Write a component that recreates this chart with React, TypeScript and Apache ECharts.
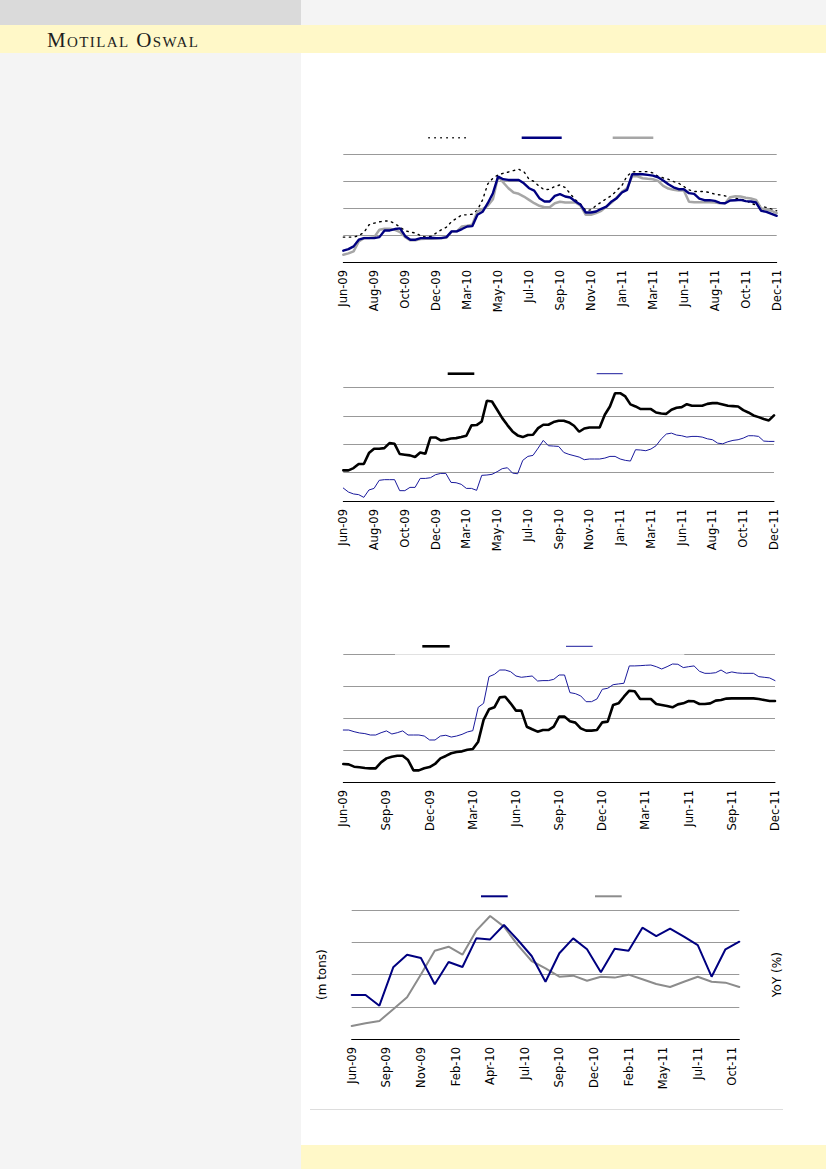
import React, { useEffect, useRef } from 'react';
import * as echarts from 'echarts';

// ---------- tick labels ----------
const ticks1 = ['Jun-09', 'Aug-09', 'Oct-09', 'Dec-09', 'Mar-10', 'May-10', 'Jul-10', 'Sep-10', 'Nov-10', 'Jan-11', 'Mar-11', 'Jun-11', 'Aug-11', 'Oct-11', 'Dec-11'];
const ticks2 = ticks1;
const ticks3 = ['Jun-09', 'Sep-09', 'Dec-09', 'Mar-10', 'Jun-10', 'Sep-10', 'Dec-10', 'Mar-11', 'Jun-11', 'Sep-11', 'Dec-11'];
const ticks4 = ['Jun-09', 'Sep-09', 'Nov-09', 'Feb-10', 'Apr-10', 'Jul-10', 'Sep-10', 'Dec-10', 'Feb-11', 'May-11', 'Jul-11', 'Oct-11'];

// points between two tick labels
const STEP1 = 6;
const STEP3 = 8;
const STEP4 = 2.5;

// ---------- chart 1 (weekly, 85 points) ----------
const c1Dotted = [23.1, 23.1, 23.1, 24.4, 27.5, 34.6, 36.1, 37.3, 38.0, 38.0, 35.5, 32.4, 29.0, 27.8, 26.9, 24.4, 23.1, 23.8, 26.9, 29.9, 32.4, 37.6, 40.7, 43.8, 43.8, 44.4, 48.4, 57.7, 72.5, 77.8, 80.9, 82.4, 83.6, 84.9, 86.1, 83.9, 76.8, 74.7, 70.1, 67.0, 67.6, 70.1, 71.6,
  69.1, 63.3, 57.7, 53.7, 47.8, 48.4, 52.5, 55.5, 58.9, 61.7, 66.3, 71.0, 79.9, 83.6, 83.9, 83.9, 83.9, 82.7, 79.6, 78.1, 76.8, 74.7, 73.1, 70.1, 67.0, 65.4, 65.4, 65.4, 64.5, 63.0, 62.3, 61.4, 60.2, 59.3, 58.3, 57.1, 54.6, 52.8, 51.8, 50.6, 49.1, 47.5];
const c1Navy = [10.5, 12.0, 14.5, 20.7, 22.2, 22.2, 22.2, 23.1, 29.3, 29.3, 30.6, 31.2, 24.0, 20.7, 20.7, 22.2, 22.2, 22.5, 22.2, 22.2, 23.1, 28.4, 28.4, 30.6, 33.0, 33.3, 43.8, 46.6, 54.6, 63.9, 79.3, 76.8, 76.2, 76.2, 76.2, 73.1, 68.5, 66.3, 59.3, 56.2, 56.2, 61.4, 63.0,
  60.8, 59.9, 56.2, 53.1, 46.0, 46.0, 46.9, 49.4, 51.5, 56.2, 59.3, 64.5, 67.0, 81.5, 81.5, 81.5, 80.9, 80.2, 78.7, 75.6, 72.2, 69.4, 67.6, 67.6, 63.9, 63.3, 58.9, 57.4, 57.4, 56.8, 54.9, 54.6, 57.1, 57.4, 57.7, 56.5, 56.2, 55.2, 47.5, 46.6, 44.7, 42.9];
const c1Gray = [6.8, 8.0, 9.9, 19.1, 22.2, 22.2, 23.1, 29.9, 30.9, 30.9, 29.9, 27.8, 23.1, 20.1, 20.1, 21.3, 21.6, 21.6, 21.9, 22.2, 22.5, 28.4, 28.4, 33.0, 33.6, 34.6, 46.9, 49.1, 52.2, 58.3, 79.3, 73.8, 68.5, 64.5, 63.3, 60.8, 57.7, 54.6, 52.2, 50.9, 50.9, 54.6, 55.9,
  55.2, 55.2, 55.2, 52.2, 43.8, 43.8, 45.4, 47.5, 51.5, 55.2, 59.9, 65.1, 68.5, 79.9, 79.6, 77.8, 77.2, 76.8, 75.3, 70.7, 68.2, 67.0, 66.3, 66.3, 55.9, 55.5, 55.5, 55.5, 55.5, 55.2, 54.6, 54.6, 60.2, 61.1, 60.8, 59.6, 58.9, 57.7, 49.7, 48.8, 47.5, 45.4];

// ---------- chart 2 (weekly, 85 points) ----------
const c2Black = [27.0, 27.0, 29.0, 32.6, 32.6, 42.2, 46.0, 46.0, 46.6, 51.0, 50.4, 41.4, 40.8, 40.2, 38.7, 42.8, 41.6, 56.0, 56.0, 53.4, 54.0, 55.1, 55.4, 56.3, 57.5, 66.6, 66.9, 70.1, 88.3, 87.7, 80.4, 73.0, 66.9, 61.3, 57.8, 56.3, 58.1, 58.4, 64.2, 67.2, 67.2, 69.5, 70.7,
  70.7, 69.2, 66.3, 61.0, 63.9, 64.8, 64.8, 64.8, 76.0, 83.3, 95.0, 95.0, 92.1, 85.1, 83.3, 81.0, 81.0, 81.0, 78.0, 77.1, 76.8, 80.4, 82.1, 82.7, 85.3, 83.9, 83.9, 83.9, 85.6, 86.2, 86.2, 85.1, 83.9, 83.6, 83.3, 80.1, 78.0, 75.4, 73.9, 72.2, 71.0, 75.4];
const c2Navy = [11.4, 7.9, 6.2, 5.6, 3.2, 9.7, 11.1, 18.2, 18.8, 18.8, 18.8, 9.1, 9.1, 12.0, 12.0, 19.9, 19.9, 20.5, 23.2, 24.3, 24.3, 16.4, 16.1, 14.7, 11.1, 11.1, 9.4, 22.6, 22.9, 23.5, 25.8, 28.5, 29.3, 24.6, 24.0, 35.8, 39.3, 40.2, 46.6, 53.4, 48.7, 48.4, 48.1,
  42.8, 41.1, 39.9, 38.7, 36.4, 37.0, 37.0, 37.0, 37.8, 39.3, 39.3, 37.0, 35.8, 35.2, 45.2, 44.9, 44.3, 45.8, 48.7, 54.6, 59.0, 59.8, 58.1, 57.5, 56.3, 56.9, 56.9, 56.3, 54.8, 54.0, 51.0, 50.4, 52.2, 53.4, 54.0, 55.4, 57.5, 57.5, 56.9, 52.8, 52.5, 52.5];

// ---------- chart 3 (81 points) ----------
const c3Black = [14.1, 13.8, 12.0, 11.5, 11.0, 10.7, 10.7, 15.4, 18.5, 19.8, 20.6, 20.6, 17.2, 9.1, 9.1, 10.7, 11.7, 14.1, 18.5, 20.4, 22.5, 23.5, 24.0, 25.3, 25.8, 31.6, 48.6, 56.9, 58.5, 66.3, 66.8, 61.6, 55.9, 55.9, 43.3, 41.3, 39.4, 40.7, 40.7, 43.3, 51.2,
  51.2, 47.5, 46.5, 42.0, 40.2, 40.2, 40.7, 46.7, 47.3, 60.3, 61.6, 66.8, 71.5, 71.0, 65.0, 65.0, 65.0, 61.1, 60.3, 59.5, 58.5, 60.8, 61.6, 63.4, 63.2, 61.1, 61.1, 61.6, 63.7, 64.2, 65.3, 65.5, 65.5, 65.5, 65.5, 65.5, 65.0, 64.2, 63.4, 63.4];
const c3Navy = [40.7, 40.7, 39.4, 38.4, 37.9, 36.8, 36.8, 38.6, 40.0, 37.6, 38.6, 40.0, 36.8, 36.8, 36.8, 36.0, 32.9, 32.9, 36.0, 36.6, 35.2, 36.0, 37.3, 39.2, 40.2, 58.5, 61.6, 82.5, 84.3, 87.7, 87.7, 86.4, 83.0, 82.0, 82.5, 83.0, 79.1, 79.4, 79.4, 80.4, 83.8,
  83.8, 70.0, 69.2, 67.4, 62.9, 62.9, 65.0, 72.6, 73.4, 76.2, 76.8, 77.3, 90.9, 90.9, 91.1, 91.4, 91.6, 90.3, 88.5, 90.3, 92.4, 92.2, 89.6, 90.3, 90.9, 86.7, 85.1, 85.1, 85.6, 87.7, 85.1, 86.2, 85.4, 85.1, 85.1, 85.1, 82.5, 82.0, 81.5, 79.4];

// ---------- chart 4 (monthly, 29 points) ----------
const c4Volume = [34.2, 34.2, 25.9, 55.7, 65.5, 62.9, 42.5, 59.8, 55.9, 78.2, 77.4, 88.6, 76.9, 64.5, 44.5, 66.6, 78.2, 69.7, 51.8, 70.2, 68.6, 86.5, 80.0, 85.7, 79.5, 73.0, 48.4, 69.7, 75.6];
const c4Yoy = [10.1, 12.2, 14.0, 23.1, 32.4, 50.2, 68.6, 71.7, 65.5, 84.2, 95.6, 87.3, 73.0, 60.6, 54.9, 48.4, 49.2, 45.3, 48.4, 47.7, 50.0, 46.4, 42.7, 40.4, 44.5, 48.4, 44.5, 43.8, 40.4];

const cats1 = c1Navy.map((_, i) => String(i));
const cats2 = c2Navy.map((_, i) => String(i));
const cats3 = c3Navy.map((_, i) => String(i));

const NAVY = '#000080';
const THIN_NAVY = '#1a1a9c';
const LIGHT_GRAY = '#a6a6a6';
const MID_GRAY = '#8c8c8c';
const GRID = '#999999';
const FONT = '"DejaVu Sans", Verdana, sans-serif';

const labelStyle = { fontFamily: FONT, fontSize: 11.5, color: '#000', rotate: 90, margin: 8 };

function catAxis(gridIndex: number, data: string[], ticks: string[], step: number) {
  return {
    type: 'category', gridIndex, data, boundaryGap: false,
    axisLine: { lineStyle: { color: '#000', width: 1 } },
    axisTick: { show: false },
    splitLine: { show: false },
    axisLabel: {
      ...labelStyle,
      interval: step - 1,
      formatter: (_v: string, idx: number) => (idx % step === 0 ? ticks[idx / step] ?? '' : ''),
    },
  };
}

function valAxis(gridIndex: number, extra: any = {}) {
  return {
    type: 'value', gridIndex, min: 0, max: 100, interval: 25,
    axisLabel: { show: false }, axisLine: { show: false }, axisTick: { show: false },
    splitLine: { show: true, lineStyle: { color: GRID, width: 1 } },
    ...extra,
  };
}

function line(name: string, xi: number, yi: number, data: any[], color: string, width: number, type: any = 'solid', z = 3) {
  return {
    name, type: 'line', xAxisIndex: xi, yAxisIndex: yi, data, symbol: 'none', z,
    lineStyle: { color, width, type, cap: 'round' }, itemStyle: { color },
  };
}

function key(x1: number, x2: number, y: number, color: string, width: number, dash?: number[]) {
  return {
    type: 'line', shape: { x1, y1: y, x2, y2: y },
    style: { stroke: color, lineWidth: width, lineDash: dash },
  };
}

function Chart() {
  const ref = useRef<HTMLDivElement>(null);
  useEffect(() => {
    if (!ref.current) return;
    const chart = echarts.init(ref.current, undefined, { renderer: 'svg' });
    chart.setOption({
      animation: false,
      grid: [
        { left: 343.3, top: 154.3, width: 433.4, height: 107.7 },
        { left: 343.3, top: 387.5, width: 430.7, height: 113.5 },
        { left: 343.3, top: 654.3, width: 431.7, height: 127.7 },
        { left: 351.7, top: 910.3, width: 387.6, height: 128.7 },
      ],
      xAxis: [
        catAxis(0, cats1, ticks1, STEP1),
        catAxis(1, cats2, ticks2, STEP1),
        catAxis(2, cats3, ticks3, STEP3),
        {
          type: 'value', gridIndex: 3, min: 0, max: c4Volume.length - 1, interval: STEP4,
          axisLine: { lineStyle: { color: '#000', width: 1 } },
          axisTick: { show: false }, splitLine: { show: false },
          axisLabel: {
            ...labelStyle,
            showMaxLabel: false,
            formatter: (v: number) => {
              const j = Math.round(v / STEP4);
              return Math.abs(j * STEP4 - v) < 1e-6 && j < ticks4.length ? ticks4[j] : '';
            },
          },
        },
      ],
      yAxis: [
        valAxis(0),
        valAxis(1),
        valAxis(2),
        valAxis(3, {
          name: '(m tons)', nameLocation: 'middle', nameRotate: 90, nameGap: 24,
          nameTextStyle: { fontFamily: FONT, fontSize: 12, color: '#000' },
        }),
        valAxis(3, {
          position: 'right', splitLine: { show: false },
          name: 'YoY (%)', nameLocation: 'middle', nameRotate: 90, nameGap: 32,
          nameTextStyle: { fontFamily: FONT, fontSize: 12, color: '#000' },
        }),
      ],
      series: [
        line('c1a', 0, 0, c1Dotted, '#000', 1.4, [1.5, 4.5], 2),
        line('c1c', 0, 0, c1Gray, LIGHT_GRAY, 2.5, 'solid', 3),
        line('c1b', 0, 0, c1Navy, NAVY, 2.4, 'solid', 4),
        line('c2a', 1, 1, c2Black, '#000', 2.6),
        line('c2b', 1, 1, c2Navy, THIN_NAVY, 1),
        line('c3a', 2, 2, c3Black, '#000', 2.6),
        line('c3b', 2, 2, c3Navy, THIN_NAVY, 1),
        line('c4b', 3, 4, c4Yoy.map((v, i) => [i, v]), MID_GRAY, 2),
        line('c4a', 3, 3, c4Volume.map((v, i) => [i, v]), NAVY, 2, 'solid', 4),
      ],
      graphic: [
        // legend keys
        key(428.3, 467.7, 137.7, '#000', 1.4, [1.5, 4.5]),
        key(521.7, 561.7, 137.7, NAVY, 2.5),
        key(612.7, 653.3, 137.7, LIGHT_GRAY, 2.5),
        key(447.7, 474.3, 373.7, '#000', 2.6),
        key(596.7, 622.7, 373.7, THIN_NAVY, 1),
        key(422.3, 449.7, 646.3, '#000', 2.6),
        key(566, 592.7, 646.3, THIN_NAVY, 1),
        key(481, 507.7, 896.3, NAVY, 2),
        key(595, 621.7, 896.3, MID_GRAY, 2),
        // translucent legend box over chart 3's top gridline
        { type: 'rect', z: 10, shape: { x: 395, y: 650, width: 289.3, height: 6 }, style: { fill: 'rgba(255,255,255,0.7)' } },
      ],
    });
    return () => chart.dispose();
  }, []);
  return <div ref={ref} style={{ position: 'absolute', left: 0, top: 0, width: 826, height: 1169 }} />;
}

export default function App() {
  useEffect(() => {
    document.body.style.margin = '0';
  }, []);
  return (
    <div style={{ position: 'relative', width: 826, height: 1169, background: '#fff', overflow: 'hidden' }}>
      <div style={{ position: 'absolute', left: 0, top: 0, width: 301, height: 25, background: '#dadada' }} />
      <div style={{ position: 'absolute', left: 301, top: 0, width: 525, height: 25, background: '#f4f4f4' }} />
      <div style={{ position: 'absolute', left: 0, top: 25, width: 826, height: 28, background: '#fff8c8' }} />
      <div style={{ position: 'absolute', left: 0, top: 53, width: 301, height: 1116, background: '#f4f4f4' }} />
      <div style={{ position: 'absolute', left: 301, top: 1145, width: 525, height: 24, background: '#fff8c8' }} />
      <div style={{ position: 'absolute', left: 310, top: 1109, width: 473, height: 1, background: '#dddddd' }} />
      <div
        style={{
          position: 'absolute', left: 47, top: 28, fontFamily: '"Liberation Serif", "DejaVu Serif", serif',
          fontSize: 21, lineHeight: '24px', fontVariant: 'small-caps', letterSpacing: 1.4, color: '#1e1e1e',
          whiteSpace: 'nowrap',
        }}
      >
        Motilal Oswal
      </div>
      <Chart />
    </div>
  );
}
